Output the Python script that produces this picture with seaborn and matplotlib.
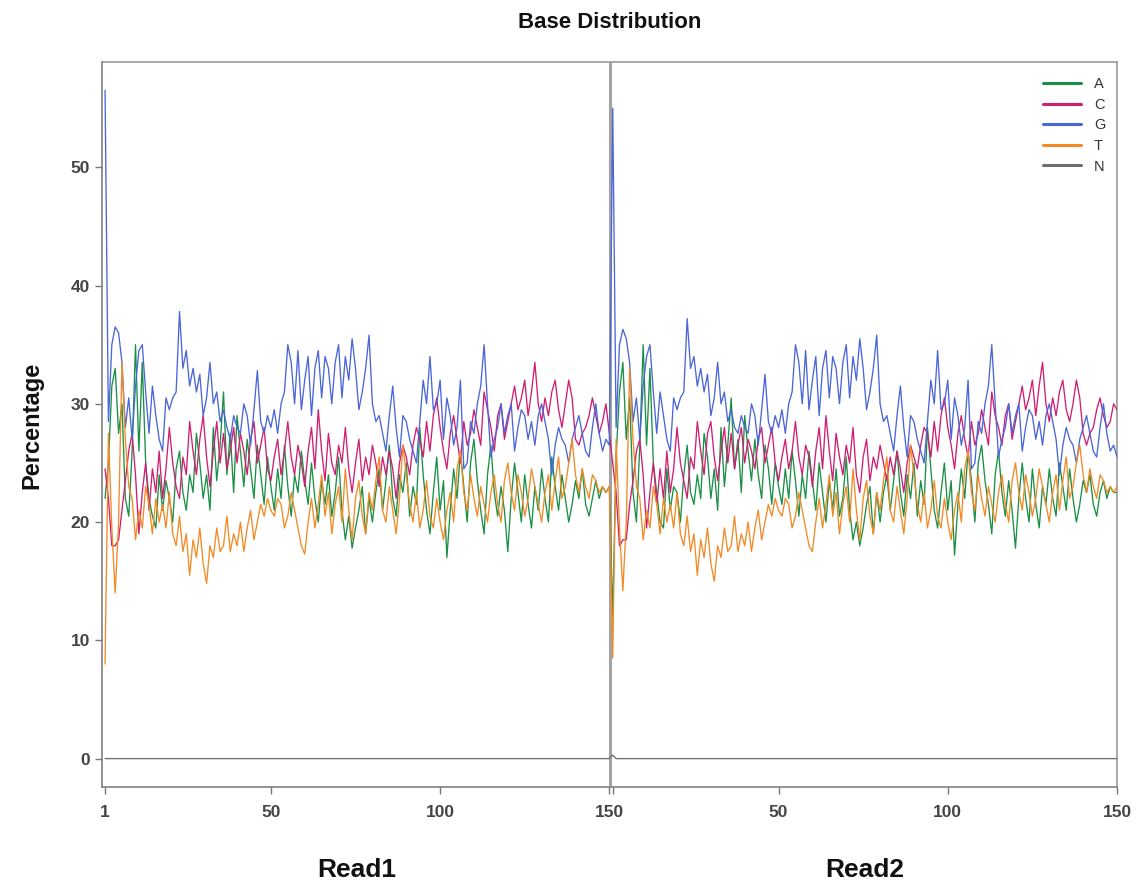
import numpy as np
import pandas as pd
import matplotlib
matplotlib.use("Agg")
import matplotlib.pyplot as plt
import seaborn as sns
from matplotlib.lines import Line2D

# ---------------- data ----------------
bases = ["A", "C", "G", "T", "N"]
read_labels = ["Read1", "Read2"]
xtick_pos = [1, 50, 100, 150, 200, 250, 300]
xtick_labels = ["1", "50", "100", "150", "50", "100", "150"]
ytick_vals = [0, 10, 20, 30, 40, 50]

A_read1 = [22.0, 25.0, 31.5, 33.0, 27.5, 30.0, 22.0, 20.5, 26.0, 35.0,
           26.0, 33.5, 25.0, 22.0, 20.5, 19.5, 24.0, 21.0, 23.5, 22.0,
           20.0, 24.5, 26.0, 22.5, 21.0, 24.0, 22.5, 27.5, 25.0, 22.0,
           24.0, 21.0, 28.0, 23.5, 26.5, 31.0, 24.0, 27.5, 22.5, 29.0,
           26.0, 23.0, 27.0, 24.5, 22.0, 26.5, 24.0, 21.5, 25.5, 23.0,
           21.0, 24.5, 22.0, 26.5, 23.0, 20.5, 24.0, 22.5, 26.0, 23.5,
           21.5, 25.0, 22.0, 20.0, 23.5, 21.5, 24.0, 20.5, 22.5, 25.5,
           21.0, 18.5, 20.5, 17.8, 19.5, 21.0, 23.0, 19.0, 22.0, 20.0,
           22.5, 24.5, 21.0, 23.5, 26.5, 22.0, 20.5, 24.0, 22.5, 25.0,
           20.5, 23.0, 21.5, 28.0, 24.0, 21.0, 19.0, 22.5, 25.5, 21.0,
           23.5, 17.0, 21.0, 24.5, 22.0, 26.0, 23.0, 20.0, 25.0, 27.0,
           23.5, 21.0, 19.0, 24.0, 26.5, 22.5, 20.5, 23.0, 21.0, 17.5,
           22.0, 25.0, 22.5, 20.0, 24.0, 21.5, 19.5, 23.0, 21.0, 24.5,
           22.0, 20.0, 25.5, 23.0, 21.0, 24.0, 22.0, 20.0, 21.5, 23.5,
           22.0, 24.5, 21.5, 20.5, 22.0, 23.5, 22.0, 23.0, 22.5, 23.0]
C_read1 = [24.5, 22.0, 18.0, 18.0, 18.5, 21.0, 23.5, 26.0, 27.5, 24.0,
           19.0, 22.5, 25.0, 21.0, 24.5, 22.5, 26.0, 22.0, 24.5, 28.0,
           25.0, 23.0, 22.0, 25.5, 24.0, 28.5, 26.0, 24.0, 27.0, 29.0,
           25.5, 23.0, 26.0, 28.5, 25.0, 27.5, 24.5, 26.0, 28.0, 25.0,
           27.5, 26.0, 24.0, 27.0, 28.5, 25.0, 26.5, 28.0, 24.5, 23.5,
           25.5, 27.0, 24.0, 26.0, 28.5, 25.5, 24.0, 26.5, 25.0, 23.0,
           26.0, 28.0, 24.5, 29.5, 26.0, 23.5, 27.5, 25.0, 24.0, 26.5,
           25.0, 28.0, 24.5, 22.5, 25.0, 27.0, 23.5, 25.5, 24.0, 26.5,
           25.0, 23.0, 25.5, 24.0, 26.0, 24.5, 22.0, 25.0, 26.5, 25.5,
           24.0, 26.5, 28.0, 27.0, 25.5, 28.5, 26.0, 29.0, 30.5, 28.0,
           26.0, 24.5, 27.5, 29.0, 27.0, 25.0, 28.5, 26.5, 27.5, 29.5,
           28.0, 26.5, 31.0, 29.5, 28.0, 26.0, 29.0, 30.0, 27.0, 28.5,
           30.0, 31.5, 29.5, 30.5, 32.0, 29.0, 31.0, 33.5, 30.0, 28.5,
           30.5, 29.0, 31.0, 32.0, 29.5, 28.0, 30.0, 32.0, 30.5, 27.0,
           26.5, 27.5, 28.0, 29.0, 30.5, 29.0, 27.5, 28.5, 30.0, 27.5]
G_read1 = [56.5, 28.5, 35.0, 36.5, 36.0, 33.5, 28.0, 30.5, 27.0, 31.5,
           34.5, 35.0, 31.0, 27.5, 31.5, 29.0, 27.0, 26.0, 30.5, 29.5,
           30.5, 31.0, 37.8, 33.0, 34.5, 31.5, 33.0, 31.0, 32.5, 29.0,
           30.5, 33.5, 30.0, 31.0, 28.5, 29.5, 28.0, 27.0, 29.0, 28.0,
           27.5, 30.0, 29.0, 26.5, 29.5, 32.8, 28.5, 27.5, 29.0, 28.0,
           29.5, 27.5, 30.0, 31.0, 35.0, 33.5, 30.0, 34.5, 29.5, 32.0,
           34.0, 29.0, 33.0, 34.5, 30.5, 34.0, 33.0, 30.0, 33.5, 35.0,
           30.5, 34.0, 32.0, 35.5, 33.0, 29.5, 31.0, 33.0, 35.8, 30.0,
           28.5, 29.0, 27.5, 26.0, 29.0, 31.5, 28.0, 25.5, 29.0, 28.5,
           27.0, 26.0, 25.0, 28.5, 32.0, 30.0, 34.0, 29.5, 30.0, 32.0,
           27.0, 30.5, 29.0, 26.5, 28.0, 32.0, 24.5, 25.0, 28.5, 27.5,
           30.0, 31.5, 35.0, 30.0, 25.5, 27.0, 28.0, 30.0, 27.5, 29.0,
           30.0, 26.0, 28.0, 29.5, 29.0, 27.0, 28.5, 26.5, 29.0, 30.0,
           28.5, 27.0, 24.0, 26.5, 28.0, 27.0, 26.5, 25.0, 27.0, 28.0,
           29.0, 27.5, 26.0, 25.5, 28.0, 30.0, 27.5, 26.0, 27.0, 26.5]
T_read1 = [8.0, 27.5, 19.5, 14.0, 20.0, 33.5, 27.0, 23.0, 22.0, 18.5,
           21.0, 19.5, 23.0, 21.5, 19.0, 22.0, 20.0, 21.5, 19.5, 22.5,
           19.0, 18.0, 20.5, 17.5, 19.0, 15.5, 18.5, 17.0, 19.5, 16.5,
           14.8, 18.0, 17.0, 19.5, 17.5, 18.0, 20.5, 17.5, 19.0, 18.0,
           20.0, 17.5, 19.5, 21.0, 18.5, 20.0, 21.5, 20.5, 22.0, 21.0,
           20.5, 22.0, 21.5, 19.5, 20.5, 22.5, 21.0, 19.5, 18.0, 17.3,
           20.0, 22.0, 19.5, 21.5, 24.0, 20.5, 22.5, 19.0, 21.5, 23.0,
           20.0, 24.5, 21.0, 18.5, 22.0, 23.5, 20.5, 19.0, 22.5, 21.0,
           23.5, 25.5, 21.0, 20.0, 23.0, 21.0, 19.0, 22.0, 26.5, 24.0,
           21.5, 20.0, 22.5, 19.5, 21.0, 23.5, 20.5, 19.5, 22.0, 20.0,
           18.5, 21.0, 22.5, 20.0, 24.5, 26.0, 22.5, 21.0, 24.0, 22.0,
           20.5, 23.0, 21.5, 20.0, 22.5, 24.0, 21.5, 20.0, 23.5, 25.0,
           22.5, 21.0, 24.0, 22.5, 20.5, 22.0, 24.5, 23.0, 21.5, 20.0,
           22.5, 24.0, 21.0, 23.5, 25.5, 22.0, 23.0, 25.0, 27.0, 24.0,
           22.5, 24.5, 23.0, 22.0, 24.0, 23.5, 22.5, 23.0, 22.5, 23.0]
N_read1 = [0.0] * 150

A_read2 = [12.0, 25.5, 31.0, 33.5, 27.0, 30.5, 22.5, 20.0, 26.5, 35.0,
           26.5, 33.0, 25.0, 22.5, 20.0, 19.5, 24.5, 21.0, 23.0, 22.5,
           20.0, 24.0, 26.5, 22.5, 21.5, 24.0, 22.0, 27.5, 25.5, 22.0,
           24.5, 21.0, 28.0, 23.0, 26.5, 30.5, 24.5, 27.0, 22.5, 29.0,
           26.0, 23.5, 27.0, 24.0, 22.0, 26.5, 24.5, 21.5, 25.0, 23.0,
           21.5, 24.5, 22.0, 26.0, 23.5, 20.5, 24.0, 22.0, 26.0, 23.5,
           21.0, 25.0, 22.5, 20.0, 23.5, 21.0, 24.5, 20.5, 22.0, 25.5,
           21.0, 18.5, 20.0, 18.0, 19.5, 21.5, 23.0, 19.0, 22.5, 20.0,
           22.5, 24.0, 21.0, 23.5, 26.0, 22.5, 20.5, 24.0, 22.0, 25.0,
           20.5, 23.5, 21.5, 28.0, 24.5, 21.0, 19.5, 22.5, 25.0, 21.0,
           23.5, 17.2, 21.5, 24.5, 22.0, 26.0, 23.5, 20.0, 25.0, 26.5,
           23.5, 21.5, 19.0, 24.0, 26.0, 22.5, 20.5, 23.5, 21.0, 17.8,
           22.0, 25.0, 22.0, 20.0, 24.5, 21.5, 19.5, 23.0, 21.5, 24.5,
           22.0, 20.5, 25.0, 23.0, 21.0, 24.5, 22.0, 20.0, 21.5, 23.5,
           22.5, 24.0, 21.5, 20.5, 22.5, 23.5, 22.0, 23.0, 22.5, 22.5]
C_read2 = [25.0, 22.5, 18.0, 18.5, 18.5, 21.5, 23.5, 26.0, 27.0, 24.0,
           19.5, 22.5, 25.0, 21.5, 24.5, 22.0, 26.0, 22.5, 24.5, 28.0,
           25.0, 23.5, 22.0, 25.5, 24.5, 28.5, 26.0, 24.0, 27.5, 28.5,
           25.5, 23.5, 26.0, 28.0, 25.0, 27.5, 24.5, 26.5, 28.0, 25.0,
           27.0, 26.0, 24.5, 27.0, 28.0, 25.0, 26.5, 28.0, 25.0, 23.5,
           25.5, 27.0, 24.5, 26.0, 28.5, 25.5, 24.0, 26.5, 25.5, 23.0,
           26.0, 28.0, 24.5, 29.0, 26.0, 23.5, 27.5, 25.5, 24.0, 26.5,
           25.0, 28.0, 24.0, 22.5, 25.5, 27.0, 23.5, 25.5, 24.5, 26.5,
           25.0, 23.5, 25.5, 24.0, 26.0, 24.5, 22.5, 25.0, 26.5, 25.5,
           24.5, 26.5, 28.0, 27.5, 25.5, 28.5, 26.0, 29.0, 30.5, 28.0,
           26.5, 24.5, 27.5, 29.0, 27.0, 25.5, 28.5, 26.5, 27.5, 29.5,
           28.0, 26.5, 31.0, 29.0, 28.0, 26.5, 29.0, 30.0, 27.0, 28.5,
           30.0, 31.5, 29.5, 30.5, 32.0, 29.0, 31.5, 33.5, 30.0, 28.5,
           30.5, 29.0, 31.0, 32.0, 29.5, 28.5, 30.0, 32.0, 30.5, 27.5,
           26.5, 27.5, 28.0, 29.5, 30.5, 29.0, 28.0, 28.5, 30.0, 29.5]
G_read2 = [55.0, 28.0, 35.0, 36.3, 35.5, 33.5, 28.5, 30.5, 27.0, 31.5,
           34.0, 35.0, 31.0, 27.5, 31.0, 29.0, 27.0, 26.0, 30.5, 29.5,
           30.5, 31.0, 37.2, 33.0, 34.0, 31.5, 33.0, 31.0, 32.5, 29.0,
           30.5, 33.5, 30.0, 31.0, 28.5, 29.5, 28.0, 27.5, 29.0, 28.0,
           27.5, 30.0, 29.0, 26.5, 29.5, 32.5, 28.5, 27.5, 29.0, 28.0,
           29.5, 27.5, 30.0, 31.0, 35.0, 33.5, 30.0, 34.5, 29.5, 32.0,
           34.0, 29.0, 33.0, 34.5, 30.5, 34.0, 33.0, 30.0, 33.5, 35.0,
           30.5, 34.0, 32.0, 35.5, 33.0, 29.5, 31.0, 33.0, 35.8, 30.0,
           28.5, 29.0, 27.5, 26.0, 29.0, 31.5, 28.0, 25.5, 29.0, 28.5,
           27.0, 26.0, 25.0, 28.5, 32.0, 30.0, 34.5, 29.5, 30.0, 32.0,
           27.0, 30.5, 29.0, 26.5, 28.0, 32.0, 24.5, 25.0, 28.5, 27.5,
           30.0, 31.5, 35.0, 30.0, 25.5, 27.0, 28.0, 30.0, 27.5, 29.0,
           30.0, 26.0, 28.0, 29.5, 29.0, 27.0, 28.5, 26.5, 29.0, 30.0,
           28.5, 27.0, 24.0, 26.5, 28.0, 27.0, 26.5, 25.0, 27.0, 28.0,
           29.0, 27.5, 26.0, 25.5, 28.0, 30.0, 27.5, 26.0, 26.5, 25.5]
T_read2 = [8.5, 27.0, 19.5, 14.2, 20.0, 33.0, 27.0, 23.0, 22.0, 18.5,
           21.0, 19.5, 23.0, 21.5, 19.0, 22.0, 20.0, 21.5, 19.5, 22.5,
           19.0, 18.0, 20.5, 17.5, 19.0, 15.5, 18.5, 17.0, 19.5, 16.5,
           15.0, 18.0, 17.0, 19.5, 17.5, 18.0, 20.5, 17.5, 19.0, 18.0,
           20.0, 17.5, 19.5, 21.0, 18.5, 20.0, 21.5, 20.5, 22.0, 21.0,
           20.5, 22.0, 21.5, 19.5, 20.5, 22.5, 21.0, 19.5, 18.0, 17.5,
           20.0, 22.0, 19.5, 21.5, 24.0, 20.5, 22.5, 19.0, 21.5, 23.0,
           20.0, 24.5, 21.0, 18.5, 22.0, 23.5, 20.5, 19.0, 22.5, 21.0,
           23.5, 25.5, 21.0, 20.0, 23.0, 21.0, 19.0, 22.0, 26.5, 24.0,
           21.5, 20.0, 22.5, 19.5, 21.0, 23.5, 20.5, 19.5, 22.0, 20.0,
           18.5, 21.0, 22.5, 20.0, 24.5, 26.0, 22.5, 21.0, 24.0, 22.0,
           20.5, 23.0, 21.5, 20.0, 22.5, 24.0, 21.5, 20.0, 23.5, 25.0,
           22.5, 21.0, 24.0, 22.5, 20.5, 22.0, 24.5, 23.0, 21.5, 20.0,
           22.5, 24.0, 21.0, 23.5, 25.5, 22.0, 23.0, 25.0, 26.5, 24.0,
           22.5, 24.5, 23.0, 22.0, 24.0, 23.5, 22.5, 23.0, 22.5, 23.0]
N_read2 = [0.3] + [0.0] * 149

colors = {"A": "#1a9046", "C": "#cf1f73", "G": "#4a66d8", "T": "#f28a25", "N": "#6e6e6e"}

# ---------------- build long table ----------------
read1 = {"A": A_read1, "C": C_read1, "G": G_read1, "T": T_read1, "N": N_read1}
read2 = {"A": A_read2, "C": C_read2, "G": G_read2, "T": T_read2, "N": N_read2}
rows = []
for b in bases:
    seq = list(read1[b]) + list(read2[b])
    for i, v in enumerate(seq):
        rows.append({"pos": i + 1, "base": b, "pct": v})
df = pd.DataFrame(rows)

# ---------------- plot ----------------
sns.set_theme(style="white")
plt.rcParams["font.family"] = ["Liberation Sans", "DejaVu Sans"]

fig = plt.figure(figsize=(11.4, 8.86), dpi=100)
ax = fig.add_axes([102 / 1140, 1 - 787 / 886, (1117 - 102) / 1140, (787 - 62) / 886])

ax.axvline(150.3, color="#a3a3a3", lw=2.2, zorder=1)

sns.lineplot(data=df, x="pos", y="pct", hue="base", hue_order=bases,
             palette=colors, linewidth=0.95, ax=ax, legend=False,
             estimator=None, sort=True, zorder=3)

ax.set_xlim(0.1, 300)
ax.set_ylim(-2.4, 58.9)
ax.set_xticks(xtick_pos)
ax.set_xticklabels(xtick_labels)
ax.set_xticks([151], minor=True)
ax.set_yticks(ytick_vals)
ax.tick_params(axis="both", which="both", direction="out", length=5, width=1,
               color="#777777", labelcolor="#444444", labelsize=12.5, bottom=True, left=True)
ax.tick_params(axis="x", pad=8)
for lab in ax.get_xticklabels() + ax.get_yticklabels():
    lab.set_fontweight("bold")
for s in ax.spines.values():
    s.set_color("#9a9a9a")
    s.set_linewidth(1.2)
ax.spines["left"].set_color("#808080")
ax.spines["bottom"].set_color("#808080")
ax.set_xlabel("")
ax.set_ylabel("")

fig.text(32 / 1140, 1 - 425 / 886, "Percentage", rotation=90, ha="center", va="center",
         fontsize=17, fontweight="bold", color="#111111")
fig.text(610 / 1140, 1 - 23 / 886, "Base Distribution", ha="center", va="center",
         fontsize=16, fontweight="bold", color="#111111")
fig.text(357 / 1140, 1 - 870 / 886, read_labels[0], ha="center", va="center",
         fontsize=19, fontweight="bold", color="#111111")
fig.text(865 / 1140, 1 - 870 / 886, read_labels[1], ha="center", va="center",
         fontsize=19, fontweight="bold", color="#111111")

handles = [Line2D([0], [0], color=colors[b], lw=2.2) for b in bases]
leg = ax.legend(handles, bases, loc="upper right", frameon=False, fontsize=10.5,
                handlelength=2.6, handletextpad=0.9, labelspacing=0.45,
                bbox_to_anchor=(1.0, 0.995), borderaxespad=0.4)
for t in leg.get_texts():
    t.set_color("#333333")

fig.savefig("out.png", dpi=100)
